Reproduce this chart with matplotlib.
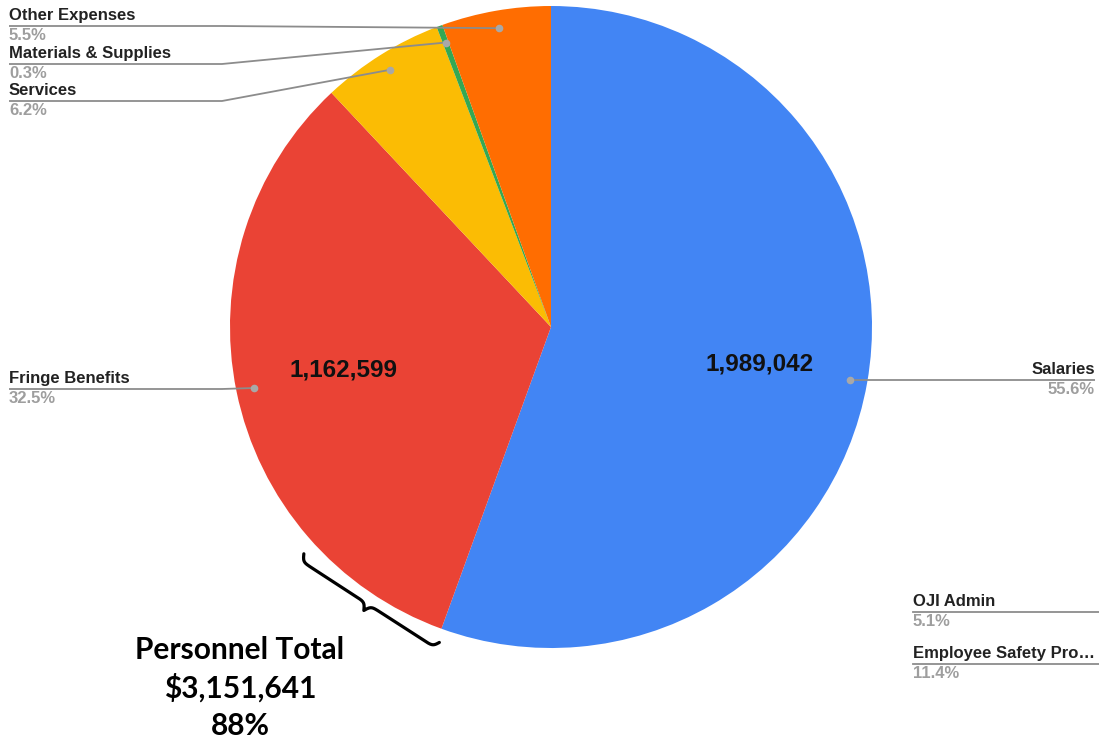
import numpy as np
import matplotlib.pyplot as plt

# slices, clockwise from 12 o'clock
categories = ['Salaries', 'Fringe Benefits', 'Services', 'Materials & Supplies', 'Other Expenses']
shares = [55.6, 32.5, 6.2, 0.3, 5.5]
amounts = {'Salaries': 1989042, 'Fringe Benefits': 1162599}
colors = ['#4285f4', '#ea4335', '#fbbc04', '#34a853', '#ff6d01']

# entries shown in the legend area without a slice
extra_labels = ['OJI Admin', 'Employee Safety Pro\u2026']
extra_shares = [5.1, 11.4]

personnel = ['Salaries', 'Fringe Benefits']

W, H = 1099, 742
CX, CY, R = 551, 327, 321
LABEL_FONT = 'Liberation Sans'
DARK = '#222222'
GREY = '#9e9e9e'
LINE = '#8c8c8c'

fig = plt.figure(figsize=(W / 100, H / 100), dpi=100)
ax = fig.add_axes([0, 0, 1, 1])

wedges, _ = ax.pie(shares, colors=colors, startangle=-90, counterclock=True,
                   center=(CX, CY), radius=R, wedgeprops=dict(linewidth=0))
ax.set_xlim(0, W)
ax.set_ylim(H, 0)
ax.set_aspect('equal')
ax.axis('off')


def polar(theta_deg, r):
    t = np.deg2rad(theta_deg)
    return CX + r * np.cos(t), CY + r * np.sin(t)


# leader-line layout: (side, line y, elbow x)
layout = {
    'Other Expenses': ('left', 26, 222),
    'Materials & Supplies': ('left', 64, 222),
    'Services': ('left', 101, 222),
    'Fringe Benefits': ('left', 389, 222),
    'Salaries': ('right', 380, None),
}

for w, name, share in zip(wedges, categories, shares):
    mid = (w.theta1 + w.theta2) / 2
    dx, dy = polar(mid, 0.945 * R)
    side, ly, ex = layout[name]
    if side == 'left':
        xs, ys = [9, ex, dx], [ly, ly, dy]
        tx, ha = 9, 'left'
    else:
        xs, ys = [dx, 1095], [dy, dy]
        tx, ha = 1095, 'right'
        ly = dy
    ax.plot(xs, ys, color=LINE, lw=1.3, solid_capstyle='butt', zorder=3)
    ax.plot(dx, dy, 'o', color='#a8a8a8', ms=5.5, mec='none', zorder=4)
    ax.text(tx, ly - 3, name, ha=ha, va='bottom', fontsize=12, fontweight='bold',
            color=DARK, family=LABEL_FONT)
    ax.text(tx, ly + 2, f'{share}%', ha=ha, va='top', fontsize=12, fontweight='bold',
            color=GREY, family=LABEL_FONT)
    if name in amounts:
        vx, vy = polar(mid, 0.66 * R)
        ax.text(vx, vy, f'{amounts[name]:,}', ha='center', va='center', fontsize=17.5,
                fontweight='bold', color='#111111', family=LABEL_FONT)

for i, (name, share) in enumerate(zip(extra_labels, extra_shares)):
    ly = 612 + i * 52
    ax.plot([913, 1099], [ly, ly], color=LINE, lw=1.3, zorder=3)
    ax.text(913, ly - 3, name, ha='left', va='bottom', fontsize=12, fontweight='bold',
            color=DARK, family=LABEL_FONT)
    ax.text(913, ly + 2, f'{share}%', ha='left', va='top', fontsize=12, fontweight='bold',
            color=GREY, family=LABEL_FONT)


# curly brace along the outer edge of the fringe slice, next to salaries
def brace(p0, p1, h, n=400):
    p0, p1 = np.asarray(p0, float), np.asarray(p1, float)
    chord = p1 - p0
    L = np.hypot(*chord)
    eu = chord / L
    ev = np.array([-eu[1], eu[0]])
    mid = (p0 + p1) / 2
    if np.dot(mid - np.array([CX, CY]), ev) < 0:
        ev = -ev
    u = np.linspace(0, L, n)
    half = u[:n // 2 + 1]
    beta = 85.0 / L
    yh = 1 / (1 + np.exp(-beta * (half - half[0]))) + 1 / (1 + np.exp(-beta * (half - half[-1])))
    y = np.concatenate([yh, yh[-2::-1]])[:n]
    v = (y - 0.5) * h
    pts = p0[None, :] + u[:, None] * eu[None, :] + v[:, None] * ev[None, :]
    return pts[:, 0], pts[:, 1]


edge_theta = wedges[categories.index('Salaries')].theta2
bx, by = brace(polar(edge_theta + 27.5, 1.045 * R), polar(edge_theta - 0.5, 1.04 * R), 15)
ax.plot(bx, by, color='black', lw=2.3, solid_capstyle='round', zorder=3)

pers_idx = [categories.index(p) for p in personnel]
pers_total = sum(amounts[p] for p in personnel)
pers_share = sum(shares[i] for i in pers_idx)
for k, txt in enumerate(['Personnel Total', f'${pers_total:,}', f'{pers_share:.0f}%']):
    ax.text(240, 650 + k * 38, txt, ha='center', va='center', fontsize=21.5,
            fontweight='bold', color='black', family='Lato')

fig.savefig('out.png', dpi=100)
